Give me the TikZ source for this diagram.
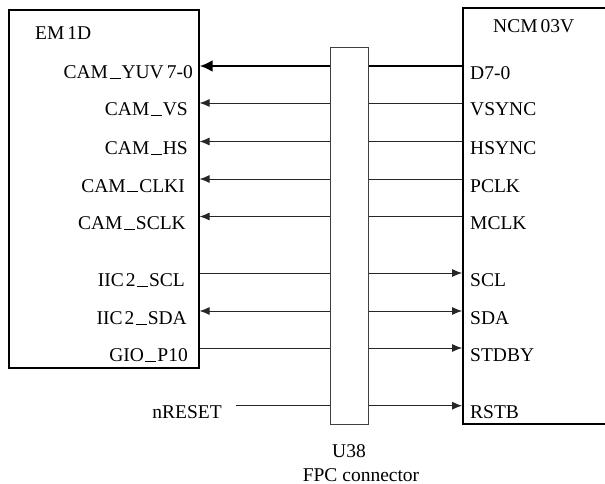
\documentclass[tikz,border=0pt]{standalone}
\usepackage{fontspec}
\setmainfont{Liberation Serif}
\usetikzlibrary{arrows.meta}
\newcommand\us{\kern1.5pt\rule[-0.3pt]{11pt}{0.8pt}\kern1pt}
\tikzset{
  chip/.style={draw=black, line width=1.8pt, inner sep=0pt},
  conn/.style={draw=black!75, fill=white, line width=0.8pt, inner sep=0pt, minimum width=38pt, minimum height=377pt},
  sig/.style={line width=0.9pt, draw=black!85},
  bus/.style={line width=2.8pt},
  tipL/.style={{Latex[length=10pt,width=8pt]}-},
  tipR/.style={-{Latex[length=10pt,width=8pt]}},
  tipB/.style={{Latex[length=10pt,width=8pt]}-{Latex[length=10pt,width=8pt]}},
  busL/.style={{Latex[length=13pt,width=12pt]}-},
  lab/.style={inner sep=0pt, font=\fontsize{19.5}{23}\selectfont},
  llab/.style={lab, anchor=base east},
  rlab/.style={lab, anchor=base west},
}
\begin{document}
\begin{tikzpicture}[x=1pt,y=-1pt]
\useasboundingbox (0,0) rectangle (605,484);
\clip (0,0) rectangle (605,484);
% chips
\node[chip, minimum width=189.7pt, minimum height=358pt] (EM) at (103.85,189) {};
\node[chip, minimum width=143pt, minimum height=416pt] (NCM) at (534.5,216) {};
\node[lab, anchor=base west] (emt) at (35,40) {EM\kern3pt1D};
\node[lab, anchor=base west] (ncmt) at (493,33) {NCM\kern3pt03V};
% row coordinates
\foreach \n/\y in {1/66,2/103,3/141.5,4/179,5/216.5,6/273,7/311,8/348,9/405.7}{
  \coordinate (l\n) at (EM.east |- 0,\y);
  \coordinate (r\n) at (NCM.west |- 0,\y);
}
\coordinate (nrs) at (236,405.7);
% signals
\draw[bus, busL] (l1) -- (r1);
\draw[sig, tipL] (l2) -- (r2);
\draw[sig, tipL] (l3) -- (r3);
\draw[sig, tipL] (l4) -- (r4);
\draw[sig, tipL] (l5) -- (r5);
\draw[sig, tipR] (l6) -- (r6);
\draw[sig, tipB] (l7) -- (r7);
\draw[sig, tipR] (l8) -- (r8);
\draw[sig, tipR] (nrs) -- (r9);
% connector
\node[conn] (U38) at (349,235.5) {};
\node[lab, anchor=base] (u38t) at (349,457) {U38};
\node[lab, anchor=base] (fpct) at (361,481) {FPC connector};
% left labels
\node[llab] (a1) at (193,79) {CAM\us YUV\kern3pt7-0};
\node[llab] (a2) at (188,116) {CAM\us VS};
\node[llab] (a3) at (188,154.5) {CAM\us HS};
\node[llab] (a4) at (185,192) {CAM\us CLKI};
\node[llab] (a5) at (186,229.5) {CAM\us SCLK};
\node[llab] (a6) at (185,286) {IIC\kern2pt2\us SCL};
\node[llab] (a7) at (187,324) {IIC\kern2pt2\us SDA};
\node[llab] (a8) at (188,361) {GIO\us P10};
\node[llab] (a9) at (222,418) {nRESET};
% right labels
\node[rlab] (b1) at (470,80) {D7-0};
\node[rlab] (b2) at (470,116) {VSYNC};
\node[rlab] (b3) at (470,154.5) {HSYNC};
\node[rlab] (b4) at (470,192) {PCLK};
\node[rlab] (b5) at (470,229.5) {MCLK};
\node[rlab] (b6) at (470,286) {SCL};
\node[rlab] (b7) at (470,324) {SDA};
\node[rlab] (b8) at (470,361) {STDBY};
\node[rlab] (b9) at (470,418) {RSTB};
\end{tikzpicture}
\end{document}
